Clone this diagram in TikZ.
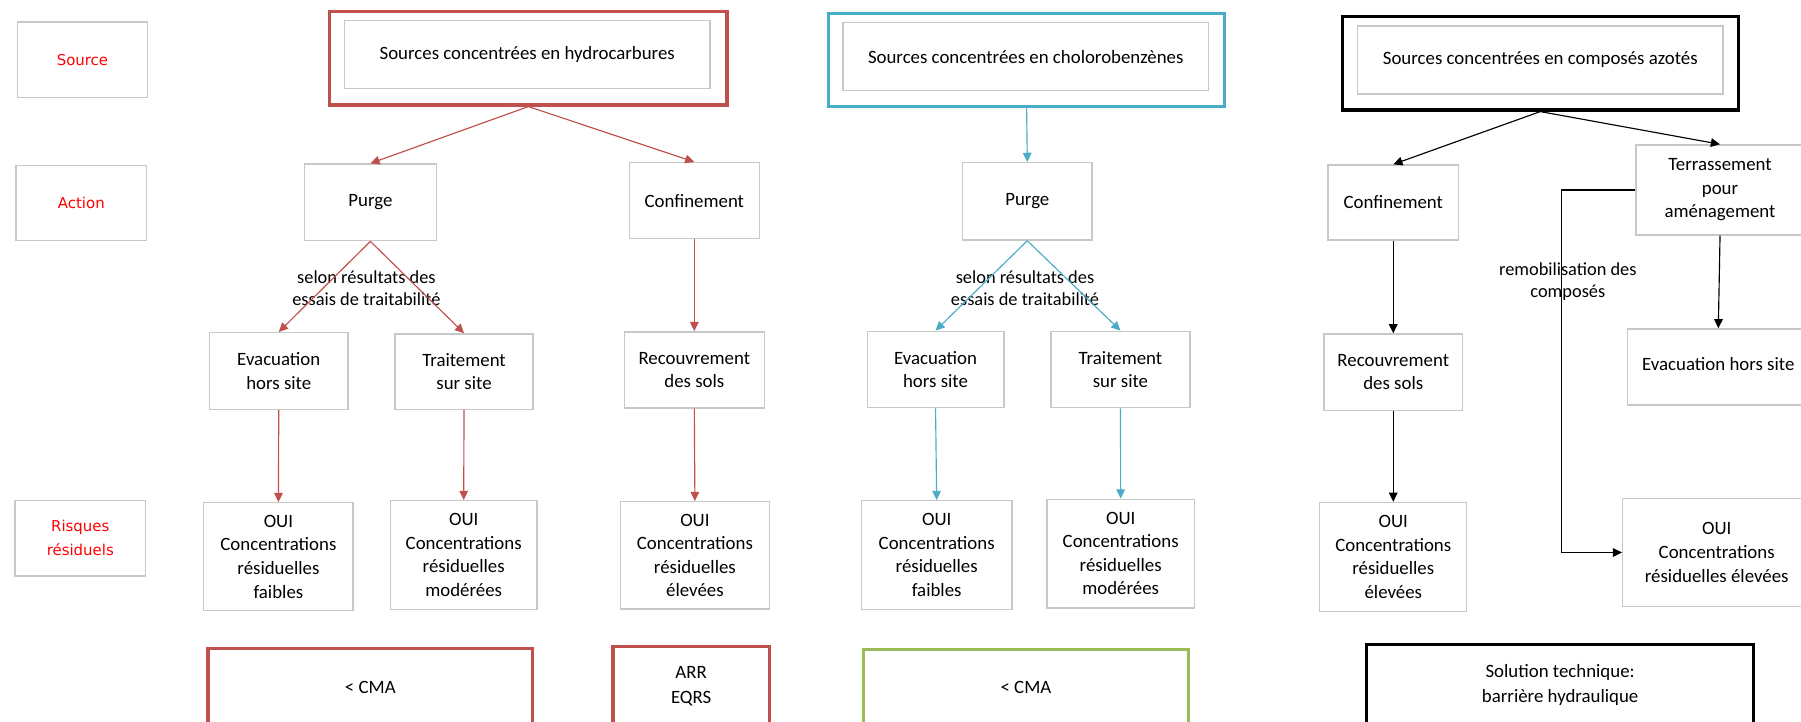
\documentclass[tikz,border=0pt]{standalone}
\usepackage{fontspec}
\setmainfont{Carlito}
\newfontfamily\labelfont{DejaVu Sans}
\usetikzlibrary{arrows.meta}
\definecolor{hred}{HTML}{C0504D}
\definecolor{hblue}{HTML}{4BACC6}
\definecolor{hgreen}{HTML}{9BBB59}
\definecolor{boxgray}{HTML}{C8C8C8}
\definecolor{labred}{HTML}{FF0000}
\tikzset{
  gbox/.style={draw=boxgray, line width=1.2pt, inner sep=0pt, align=center,
    font=\fontsize{16.4}{20.5}\selectfont},
  framebox/.style={line width=2.8pt, inner sep=0pt, align=center,
    font=\fontsize{16.4}{21.5}\selectfont},
  rowlab/.style={gbox, text=labred, font=\labelfont\fontsize{13}{21}\selectfont},
  note/.style={inner sep=0pt, align=center, font=\fontsize{16}{19}\selectfont},
  arr/.style={line width=1pt, -{Triangle[length=8pt,width=7.5pt]}},
  redarr/.style={arr, draw=hred},
  bluearr/.style={arr, draw=hblue},
  blackarr/.style={arr, draw=black},
}
\begin{document}
\begin{tikzpicture}[x=1pt,y=-1pt]
\useasboundingbox (0,0) rectangle (1568,628);
\fill[white] (0,0) rectangle (1568,628);
\clip (0,0) rectangle (1568,628);

% row labels
\node[rowlab, minimum width=113.5pt, minimum height=66pt] (src) at (71.8,52) {Source};
\node[rowlab, minimum width=113.8pt, minimum height=65.2pt] (act) at (70.8,176.6) {Action};
\node[rowlab, minimum width=113.8pt, minimum height=66pt] (ris) at (69.9,468.5) {Risques\\résiduels};

% column 1 : hydrocarbures
\node[framebox, draw=hred, minimum width=346pt, minimum height=81.2pt] (h1out) at (460,50.8) {};
\node[gbox, minimum width=318.5pt, minimum height=59pt] (h1in) at (459,47.5) {Sources concentrées en hydrocarbures};
\node[gbox, minimum width=115pt, minimum height=66.7pt] (p1) at (322.5,176.2) {Purge};
\node[gbox, minimum width=113pt, minimum height=66.2pt] (c1) at (604.5,174.7) {Confinement};
\node[gbox, minimum width=120.7pt, minimum height=66.8pt] (e1) at (242.7,323) {Evacuation\\hors site};
\node[gbox, minimum width=120pt, minimum height=65.6pt] (t1) at (404,323.5) {Traitement\\sur site};
\node[gbox, minimum width=121.8pt, minimum height=66.2pt] (r1) at (604.5,322) {Recouvrement\\des sols};
\node[gbox, minimum width=130pt, minimum height=94pt] (o1a) at (242.4,484.7) {OUI\\Concentrations\\résiduelles\\faibles};
\node[gbox, minimum width=127.5pt, minimum height=94.6pt] (o1b) at (403.7,483.2) {OUI\\Concentrations\\résiduelles\\modérées};
\node[gbox, minimum width=129.4pt, minimum height=93.4pt] (o1c) at (605,483.5) {OUI\\Concentrations\\résiduelles\\élevées};
\node[framebox, draw=hred, minimum width=282.8pt, minimum height=67.6pt] (cma1) at (322.4,598.3) {< CMA};
\node[framebox, draw=hred, minimum width=135.9pt, minimum height=69pt] (arr1) at (601.7,597.5) {ARR\\EQRS};
\node[note] (sel1) at (319,251) {selon résultats des\\essais de traitabilité};

\draw[redarr] (h1out.south) -- (p1.north);
\draw[redarr] (h1out.south) -- (c1.north);
\draw[redarr] (p1.south) -- (e1.north);
\draw[redarr] (p1.south) -- (t1.north);
\draw[redarr] (c1.south) -- (r1.north);
\draw[redarr] (e1.south) -- (o1a.north);
\draw[redarr] (t1.south) -- (o1b.north);
\draw[redarr] (r1.south) -- (o1c.north);

% column 2 : chlorobenzenes
\node[framebox, draw=hblue, minimum width=345.2pt, minimum height=81.3pt] (h2out) at (893.8,52.2) {};
\node[gbox, minimum width=318pt, minimum height=59.3pt] (h2in) at (893,49.3) {Sources concentrées en cholorobenzènes};
\node[gbox, minimum width=112.7pt, minimum height=67.4pt] (p2) at (894.4,175.3) {Purge};
\node[gbox, minimum width=119pt, minimum height=66.5pt] (e2) at (814.5,321.7) {Evacuation\\hors site};
\node[gbox, minimum width=121pt, minimum height=66.5pt] (t2) at (975.5,321.7) {Traitement\\sur site};
\node[gbox, minimum width=131pt, minimum height=94.5pt] (o2a) at (815.5,483.2) {OUI\\Concentrations\\résiduelles\\faibles};
\node[gbox, minimum width=128.5pt, minimum height=94.6pt] (o2b) at (975.7,482) {OUI\\Concentrations\\résiduelles\\modérées};
\node[framebox, draw=hgreen, minimum width=283pt, minimum height=66.6pt] (cma2) at (893.2,598.6) {< CMA};
\node[note] (sel2) at (892.4,250.6) {selon résultats des\\essais de traitabilité};

\draw[bluearr] (h2out.south) -- (p2.north);
\draw[bluearr] (p2.south) -- (e2.north);
\draw[bluearr] (p2.south) -- (t2.north);
\draw[bluearr] (e2.south) -- (o2a.north);
\draw[bluearr] (t2.south) -- (o2b.north);

% column 3 : composes azotes
\node[framebox, draw=black, minimum width=344.5pt, minimum height=81.3pt] (h3out) at (1341,55.1) {};
\node[gbox, minimum width=318pt, minimum height=59.2pt] (h3in) at (1341,52.2) {Sources concentrées en composés azotés};
\node[gbox, minimum width=113.8pt, minimum height=65.3pt] (c3) at (1213,176.3) {Confinement};
\node[gbox, minimum width=120.8pt, minimum height=66.4pt] (r3) at (1213,324) {Recouvrement\\des sols};
\node[gbox, minimum width=128pt, minimum height=95pt] (o3a) at (1213,485) {OUI\\Concentrations\\résiduelles\\élevées};
\node[gbox, minimum width=146.2pt, minimum height=78.4pt] (terr) at (1497.5,165.4) {Terrassement\\pour\\aménagement};
\node[gbox, minimum width=158.4pt, minimum height=66.2pt] (ev3) at (1496,319.5) {\raisebox{5pt}{Evacuation hors site}};
\node[gbox, minimum width=163.6pt, minimum height=94.3pt] (o3b) at (1494.6,481) {OUI\\Concentrations\\résiduelles élevées};
\node[framebox, draw=black, minimum width=336.8pt, minimum height=71pt] (sol) at (1358.3,596.5) {Solution technique:\\barrière hydraulique};
\node[note] (remob) at (1365,245) {remobilisation des\\composés};
\coordinate (remobc) at (1359.6,165.4);

\draw[blackarr] (h3out.south) -- (c3.north);
\draw[blackarr] (h3out.south) -- (terr.north);
\draw[blackarr] (c3.south) -- (r3.north);
\draw[blackarr] (r3.south) -- (o3a.north);
\draw[blackarr] (terr.south) -- (ev3.north);
\draw[blackarr] (terr.west) -- (remobc) |- (o3b.west);
\end{tikzpicture}
\end{document}
